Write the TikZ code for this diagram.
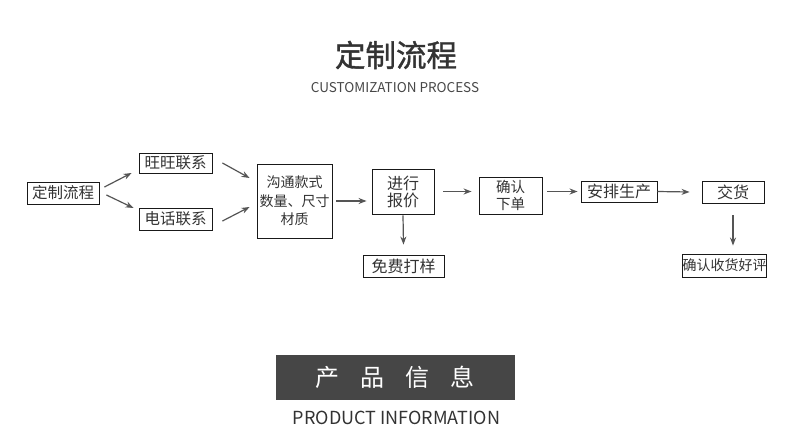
\documentclass[tikz,border=0pt]{standalone}
\usepackage{fontspec}
\setmainfont{Noto Sans CJK SC}
\newfontfamily\titlefont[FakeBold=1.2]{Noto Sans CJK SC}
\usetikzlibrary{arrows.meta}
\definecolor{txt}{HTML}{333333}
\definecolor{arrowgray}{HTML}{555555}
\definecolor{bandgray}{HTML}{464646}
\tikzset{
  box/.style={draw=black!90, line width=0.9pt, text=txt, inner sep=0pt, align=center, font=\fontsize{15.5}{17}\selectfont},
  arr/.style={draw=arrowgray, line width=1.2pt, -{Stealth[length=8pt,width=6pt]}},
}
\begin{document}
\begin{tikzpicture}[x=1pt,y=-1pt]
\useasboundingbox[fill=white] (0,0) rectangle (790,447);
% title
\node[text=txt, font=\titlefont\fontsize{30.5}{32}\selectfont] (title) at (396,55) {定制流程};
\node[text=txt!90, font=\fontsize{13.5}{15}\selectfont] (subtitle) at (395,88) {CUSTOMIZATION PROCESS};
% boxes
\node[box, minimum width=72pt, minimum height=22pt] (a) at (63,193) {定制流程};
\node[box, minimum width=73pt, minimum height=20pt] (b) at (175.5,163) {旺旺联系};
\node[box, minimum width=73pt, minimum height=22pt] (c) at (175.5,219) {电话联系};
\node[box, minimum width=75pt, minimum height=74pt, font=\fontsize{14}{18.5}\selectfont] (d) at (294.5,201) {沟通款式\\数量、尺寸\\材质};
\node[box, minimum width=62pt, minimum height=45pt, font=\fontsize{16}{17}\selectfont] (e) at (403,191.5) {进行\\报价};
\node[box, minimum width=81pt, minimum height=22pt, font=\fontsize{16}{17}\selectfont] (f) at (403.5,266) {免费打样};
\node[box, minimum width=63pt, minimum height=37pt, font=\fontsize{14.5}{17}\selectfont] (g) at (510.5,195.5) {确认\\下单};
\node[box, minimum width=76pt, minimum height=21pt, font=\fontsize{16}{17}\selectfont] (h) at (619,191.5) {安排生产};
\node[box, minimum width=62pt, minimum height=22pt, font=\fontsize{16}{17}\selectfont] (i) at (733,192) {交货};
\node[box, minimum width=83pt, minimum height=23pt, font=\fontsize{14}{16}\selectfont] (j) at (724.5,265.5) {确认收货好评};
% arrows
\draw[arr] ([xshift=5pt,yshift=6pt]a.east) -- ([xshift=-7pt,yshift=-10pt]b.west);
\draw[arr] ([xshift=7pt,yshift=-2pt]a.east) -- ([xshift=-5pt,yshift=11pt]c.west);
\draw[arr] ([xshift=10pt]b.east) -- ([xshift=-7pt,yshift=23pt]d.west);
\draw[arr] ([xshift=10pt,yshift=-2pt]c.east) -- ([xshift=-7pt,yshift=-6pt]d.west);
\draw[arr] ([xshift=4pt]d.east) -- ([xshift=-5pt]d.east -| e.west);
\draw[arr] ([yshift=-1pt]e.south) -- ([yshift=10pt]f.north);
\draw[arr] ([xshift=9pt]e.east) -- ([xshift=-7pt]e.east -| g.west);
\draw[arr] ([xshift=5pt]g.east |- h.west) -- ([xshift=-3pt]h.west);
\draw[arr] (h.east) -- ([xshift=-12pt]i.west);
\draw[arr] ([yshift=-12pt]i.south) -- ([yshift=8pt]i.south |- j.north);
% product information band
\fill[bandgray] (276,355) rectangle (515,400);
\node[text=white, font=\fontsize{24}{26}\selectfont] (band) at (395,377.5) {产\hspace{21pt}品\hspace{21pt}信\hspace{21pt}息};
\node[text=txt, font=\fontsize{18}{20}\selectfont] (prodinfo) at (396.5,418) {PRODUCT INFORMATION};
\end{tikzpicture}
\end{document}
